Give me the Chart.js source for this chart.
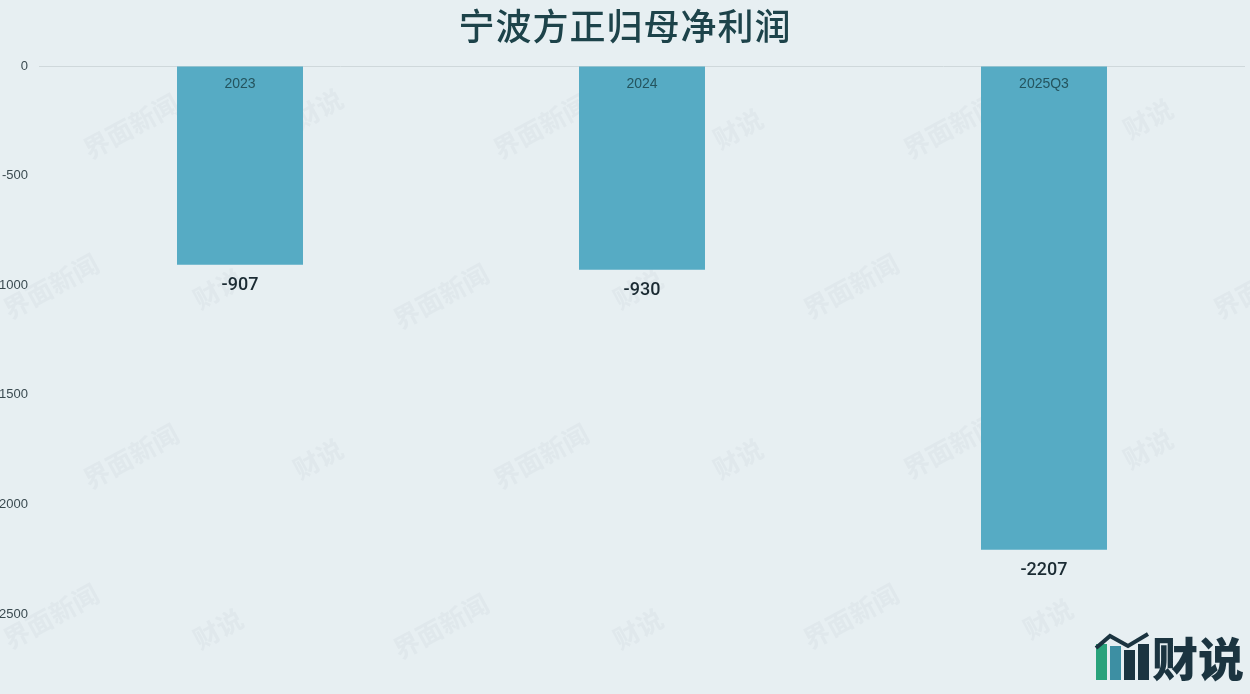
<!DOCTYPE html>
<html>
<head>
<meta charset="utf-8">
<script src="https://cdn.jsdelivr.net/npm/chart.js@4"></script>
<style>
  html, body { margin:0; padding:0; background:#e7eff2; width:1250px; height:694px; overflow:hidden; }
  #wrap { position:relative; width:1250px; height:694px; }
  #title { position:absolute; left:0; top:-2px; width:1250px; text-align:center; font-family:"Noto Sans CJK SC","Noto Sans",sans-serif; font-size:36px; font-weight:500; color:#1d434a; letter-spacing:1px; }
  canvas { position:absolute; left:0; top:0; }
  #logo { position:absolute; left:1094px; top:626px; height:56px; display:flex; align-items:flex-end; }
  #logo .ic { position:relative; width:58px; height:52px; }
  #logo .b { position:absolute; bottom:2px; width:11px; }
  #logo .txt { font-family:"Noto Sans CJK SC",sans-serif; font-weight:900; font-size:46px; line-height:52px; color:#1b3440; margin-left:0px; }
</style>
</head>
<body>
<div id="wrap">
  <canvas id="c" width="1250" height="694"></canvas>
  <div id="title">宁波方正归母净利润</div>
  <div id="logo">
    <div class="ic">
      <div class="b" style="left:2px;height:36px;background:#2aa37c"></div>
      <div class="b" style="left:16px;height:34px;background:#3d8fa3"></div>
      <div class="b" style="left:30px;height:30px;background:#1b3440"></div>
      <div class="b" style="left:44px;height:36px;background:#1b3440"></div>
      <svg style="position:absolute;left:0;top:2px" width="58" height="20"><polyline points="2,16 16,4 34,14 54,2" fill="none" stroke="#1b3440" stroke-width="4"/></svg>
    </div>
    <div class="txt">财说</div>
  </div>
</div>
<script>
const categories = ["2023", "2024", "2025Q3"];
const values = [-907, -930, -2207];
const yTicks = [0, -500, -1000, -1500, -2000, -2500];

const labelPlugin = {
  id: 'labels',
  beforeDatasetsDraw(chart) {
    const ctx = chart.ctx;
    ctx.save();
    ctx.fillStyle = 'rgba(150,170,175,0.09)';
    ctx.font = '600 26px "Noto Sans CJK SC"';
    const marks = [[90,160,'界面新闻'],[500,160,'界面新闻'],[910,160,'界面新闻'],[300,130,'财说'],[720,150,'财说'],[1130,140,'财说'],
                   [10,320,'界面新闻'],[400,330,'界面新闻'],[810,320,'界面新闻'],[1220,320,'界面新闻'],[200,310,'财说'],[620,310,'财说'],[1030,320,'财说'],
                   [90,490,'界面新闻'],[500,490,'界面新闻'],[910,480,'界面新闻'],[300,480,'财说'],[720,480,'财说'],[1130,470,'财说'],
                   [10,650,'界面新闻'],[400,660,'界面新闻'],[810,650,'界面新闻'],[200,650,'财说'],[620,650,'财说'],[1030,640,'财说']];
    marks.forEach(([x,y,t]) => { ctx.save(); ctx.translate(x,y); ctx.rotate(-0.5); ctx.fillText(t,0,0); ctx.restore(); });
    ctx.restore();
  },
  afterDatasetsDraw(chart) {
    const ctx = chart.ctx;
    const xs = chart.scales.x, ys = chart.scales.y;
    ctx.save();
    ctx.textAlign = 'center';
    ctx.textBaseline = 'middle';
    categories.forEach((c, i) => {
      const x = xs.getPixelForValue(i);
      ctx.font = '14px "Liberation Sans", Arial, sans-serif';
      ctx.fillStyle = '#24545e';
      ctx.fillText(c, x, ys.getPixelForValue(0) + 18);
      ctx.font = '500 18px Roboto, "Liberation Sans", sans-serif';
      ctx.fillStyle = '#1b2b33';
      ctx.fillText(String(values[i]), x, ys.getPixelForValue(values[i]) + 21);
    });
    ctx.restore();
  }
};

new Chart(document.getElementById('c'), {
  type: 'bar',
  data: {
    labels: categories,
    datasets: [{ data: values, backgroundColor: '#56abc4', borderWidth: 0, barPercentage: 1, categoryPercentage: 0.3134 }]
  },
  options: {
    responsive: false,
    animation: false,
    layout: { padding: { top: 66, bottom: 80, left: 0, right: 5 } },
    plugins: { legend: { display: false }, tooltip: { enabled: false }, title: { display: false } },
    scales: {
      x: { display: false },
      y: {
        min: -2500, max: 0,
        afterFit(s) { s.width = 39; },
        afterBuildTicks(s) { s.ticks = yTicks.map(v => ({ value: v })); },
        border: { display: false },
        grid: { drawTicks: false, color: ctx => ctx.tick && ctx.tick.value === 0 ? '#cfd8db' : 'rgba(0,0,0,0)', lineWidth: 1 },
        ticks: { padding: 11, color: '#3a4a50', font: { family: '"Liberation Sans", Arial, sans-serif', size: 13 }, callback: v => String(v) }
      }
    }
  },
  plugins: [labelPlugin]
});
</script>
</body>
</html>
